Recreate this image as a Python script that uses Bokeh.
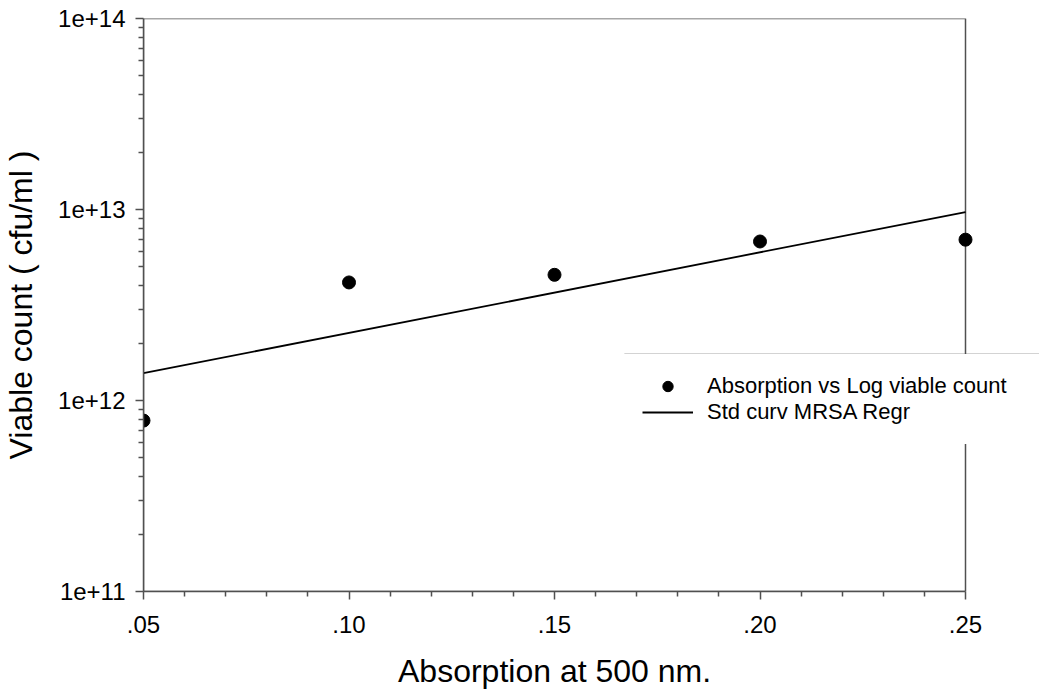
import math
from bokeh.plotting import figure
from bokeh.models import (FixedTicker, CustomJSTickFormatter, Legend, LegendItem,
                          ColumnDataSource, BoxAnnotation, Range1d, Title)
from bokeh.embed import file_html
from bokeh.resources import INLINE

# ---- data ----
absorption = [0.05, 0.10, 0.15, 0.20, 0.25]
viable_count = [7.85e11, 4.15e12, 4.55e12, 6.8e12, 6.95e12]

regr_x = [0.05, 0.25]
regr_y = [1.39e12, 9.7e12]

x_lo, x_hi = 0.05, 0.25
y_lo, y_hi = 1e11, 1e14

x_ticks = [0.05, 0.10, 0.15, 0.20, 0.25]
x_minor = [0.06, 0.07, 0.08, 0.09, 0.11, 0.12, 0.13, 0.14, 0.16, 0.17, 0.18, 0.19,
           0.21, 0.22, 0.23, 0.24]
y_ticks = [1e11, 1e12, 1e13, 1e14]
y_minor = [m * d for d in (1e11, 1e12, 1e13) for m in range(2, 10)]

x_title = "Absorption at 500 nm."
y_title = "Viable count ( cfu/ml )"
legend_labels = ["Absorption vs Log viable count", "Std curv MRSA Regr"]

FONT = "Liberation Sans"
AXIS_COLOR = "#505050"

# layout: the plotting box is 822 px wide; the frame is extended to the right
# so that the legend can run past the right edge of the box as in the original
BOX_W = 822
BOX_H = 573
FRAME_W = 896
LEFT = 142
X_TITLE_W = 313  # approx. rendered width of the x title at 32px

# legend box position in pixels, relative to the bottom-left of the plotting box
LEG_X, LEG_Y, LEG_H = 480, 147, 88

x_view_hi = x_lo + (x_hi - x_lo) * FRAME_W / BOX_W

p = figure(width=LEFT + FRAME_W, height=694, y_axis_type="log",
           x_range=Range1d(x_lo, x_view_hi), y_range=Range1d(y_lo, y_hi),
           output_backend="svg", toolbar_location=None,
           min_border_left=LEFT, min_border_right=0,
           min_border_top=18, min_border_bottom=103)
p.frame_width = FRAME_W
p.frame_height = BOX_H
p.xgrid.visible = False
p.ygrid.visible = False
p.background_fill_color = "white"
p.border_fill_color = "white"
p.outline_line_color = None

# plotting box (frame of the data area)
p.add_layout(BoxAnnotation(left=x_lo, right=x_hi, bottom=y_lo, top=y_hi,
                           fill_alpha=0, line_color=AXIS_COLOR, line_alpha=1.0,
                           line_width=1.5, level="underlay"))

src = ColumnDataSource(dict(x=absorption, y=viable_count))
r_line = p.line(regr_x, regr_y, line_color="black", line_width=1.8)
r_pts = p.scatter("x", "y", source=src, size=13, fill_color="black", line_color="black")

# x axis
xa = p.xaxis[0]
xa.ticker = FixedTicker(ticks=x_ticks, minor_ticks=x_minor)
xa.formatter = CustomJSTickFormatter(code="return tick.toFixed(2).replace(/^0/, '');")
xa.bounds = (x_lo, x_hi)
# y axis
ya = p.yaxis[0]
ya.ticker = FixedTicker(ticks=y_ticks, minor_ticks=y_minor)
ya.formatter = CustomJSTickFormatter(code="return '1e+' + Math.round(Math.log10(tick));")

for ax in (xa, ya):
    ax.axis_line_color = AXIS_COLOR
    ax.axis_line_width = 1.5
    ax.major_tick_line_color = AXIS_COLOR
    ax.minor_tick_line_color = AXIS_COLOR
    ax.major_tick_line_width = 1.5
    ax.minor_tick_line_width = 1.5
    ax.major_tick_in = 0
    ax.minor_tick_in = 0
    ax.major_tick_out = 8
    ax.minor_tick_out = 5
    ax.major_label_text_font = FONT
    ax.major_label_text_font_size = "24px"
    ax.major_label_text_color = "black"
    ax.axis_label_text_font = FONT
    ax.axis_label_text_font_size = "32px"
    ax.axis_label_text_font_style = "normal"
    ax.axis_label_text_color = "black"

ya.axis_label = y_title
xa.major_label_standoff = 16
ya.major_label_standoff = 10
ya.axis_label_standoff = 16

# x-axis title, centred under the plotting box (not the extended frame)
xt = Title(text=x_title, align="left", offset=(BOX_W - X_TITLE_W) / 2,
           text_font=FONT, text_font_size="32px", text_font_style="normal",
           text_color="black", standoff=30)
p.add_layout(xt, "below")

legend = Legend(items=[LegendItem(label=legend_labels[0], renderers=[r_pts]),
                       LegendItem(label=legend_labels[1], renderers=[r_line])],
                location=(LEG_X, LEG_Y), level="annotation")
legend.label_text_font = FONT
legend.label_text_font_size = "22px"
legend.label_text_color = "black"
legend.border_line_color = "white"
legend.border_line_width = 1
legend.background_fill_color = "white"
legend.background_fill_alpha = 1.0
legend.padding = 18
legend.margin = 0
legend.spacing = 0
legend.glyph_width = 51
legend.glyph_height = 26
legend.label_height = 23
legend.label_standoff = 14
legend.label_width = 380
p.add_layout(legend, "center")

# legend border: open on the right, running off the edge like the original
px_x = BOX_W / (x_hi - x_lo)
decades_per_px = (math.log10(y_hi) - math.log10(y_lo)) / BOX_H
leg_left = x_lo + (LEG_X + 1) / px_x
leg_bottom = 10 ** (math.log10(y_lo) + (LEG_Y + 2) * decades_per_px)
leg_top = 10 ** (math.log10(y_lo) + (LEG_Y + 2 + LEG_H) * decades_per_px)
p.add_layout(BoxAnnotation(left=leg_left, right=x_view_hi * 2, bottom=leg_bottom, top=leg_top,
                           fill_alpha=0, line_color=AXIS_COLOR, line_alpha=1.0,
                           line_width=1.5, level="overlay"))

open("out.html", "w").write(file_html(p, INLINE))
